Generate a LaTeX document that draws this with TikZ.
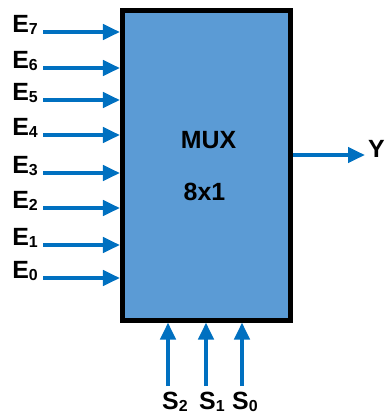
\documentclass[tikz,border=0pt]{standalone}
\usepackage{fontspec}
\setmainfont{Liberation Sans}
\usepackage{xcolor}
\usetikzlibrary{arrows.meta}
\definecolor{muxfill}{HTML}{5B9BD5}
\definecolor{wireblue}{HTML}{0070C0}
\newcommand{\idx}[1]{\raisebox{-2.5bp}{\fontsize{16}{16}\selectfont #1}}

\begin{document}
\begin{tikzpicture}[x=1bp, y=-1bp, line width=0.4pt,
    wire/.style={wireblue, line width=4bp, -{Triangle[length=17bp,width=15bp]}},
    pin/.style={font=\fontsize{25}{30}\selectfont\bfseries, inner sep=0pt}]
  \useasboundingbox (0,0) rectangle (385,414);
  % the block
  \node[draw=black, fill=muxfill, line width=5bp, minimum width=167.5bp,
        minimum height=310bp, inner sep=0pt] (mux) at (206.25,165) {};
  \node[pin] (name) at (208.5,140.5) {MUX};
  \node[pin] (size) at (204.5,192) {8x1};
  % data inputs E7 .. E0
  \foreach \i/\y in {7/32, 6/68, 5/100, 4/135, 3/173, 2/208, 1/245, 0/278} {
    \coordinate (e\i) at (43,\y);
    \node[pin, anchor=base east] (le\i) at (38,\y) {E\idx{\i}};
    \draw[wire] (e\i) -- (e\i -| mux.west);
  }
  % select lines
  \foreach \i/\x/\lx in {2/168/162, 1/206/199, 0/242/232} {
    \coordinate (s\i) at (\x,386);
    \node[pin, anchor=base west] (ls\i) at (\lx,409) {S\idx{\i}};
    \draw[wire] (s\i) -- (s\i |- mux.south);
  }
  % output
  \coordinate (yout) at (365,155);
  \draw[wire] (mux.east |- yout) -- (yout);
  \node[pin, anchor=base west] (ly) at (368,157) {Y};
\end{tikzpicture}
\end{document}
